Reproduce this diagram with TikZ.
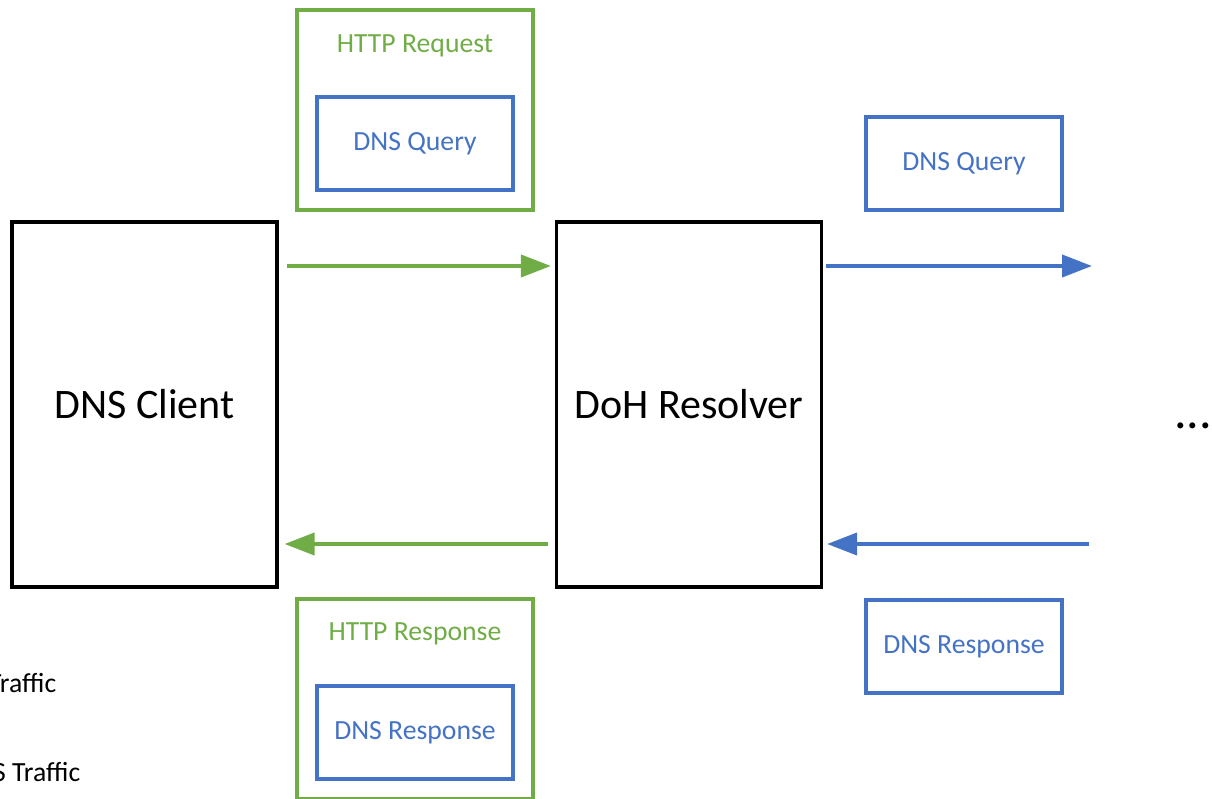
\documentclass[tikz,border=0pt]{standalone}
\usepackage{fontspec}
\setmainfont{Carlito}
\usetikzlibrary{arrows.meta,calc,positioning}
\definecolor{FigureGreen}{HTML}{70AD47}
\definecolor{FigureBlue}{HTML}{4472C4}

\begin{document}
\begin{tikzpicture}[x=1pt,y=-1pt,line cap=butt,line join=miter,
  hostbox/.style={draw=black,line width=3.2pt,minimum width=265pt,minimum height=365pt,inner sep=0pt,font=\fontsize{42}{50}\selectfont},
  httpbox/.style={draw=FigureGreen,line width=3.2pt,minimum width=236pt,minimum height=200pt,inner sep=0pt},
  dnsbox/.style={draw=FigureBlue,line width=3.2pt,minimum width=196pt,minimum height=93pt,inner sep=0pt,text=FigureBlue,font=\fontsize{27.7}{33}\selectfont},
  small/.style={font=\fontsize{27.7}{33}\selectfont,inner sep=0pt},
  garrow/.style={draw=FigureGreen,line width=4pt,-{Triangle[length=30pt,width=22pt]}},
  barrow/.style={draw=FigureBlue,line width=4pt,-{Triangle[length=30pt,width=22pt]}}]
  \clip (0,0) rectangle (1212,799);
  % hosts
  \node[hostbox] (client) at (144.5,404.5) {DNS Client};
  \node[hostbox] (resolver) at (689,404.5) {DoH Resolver};
  % wrapped messages
  \node[httpbox] (req) at (415,110) {};
  \node[small,text=FigureGreen] (reqlbl) at (415,46) {HTTP Request};
  \node[dnsbox] (q1) at (415,143.5) {\raisebox{-2pt}{DNS Query}};
  \node[httpbox] (resp) at (415,699) {};
  \node[small,text=FigureGreen] (resplbl) at (415,634) {HTTP Response};
  \node[dnsbox] (r1) at (415,732.5) {\raisebox{-2pt}{DNS Response}};
  % plain messages
  \node[dnsbox] (q2) at (964,163.5) {\raisebox{-2pt}{DNS Query}};
  \node[dnsbox] (r2) at (964,646.5) {\raisebox{-2pt}{DNS Response}};
  \node[font=\fontsize{50}{60}\selectfont,inner sep=0pt,anchor=base] (more) at (1193,428) {...};
  % legend
  \node[small,anchor=base west] (leg1) at (-12,692) {Traffic};
  \node[small,anchor=base west] (leg2) at (-7,781) {S Traffic};
  % traffic
  \coordinate (qout) at (1092,266);\coordinate (rin) at (1089,544);
  \draw[garrow] ([xshift=8pt,yshift=138.5pt]client.east) -- ([xshift=-4pt,yshift=138.5pt]resolver.west);
  \draw[garrow] ([xshift=-7pt,yshift=-139.5pt]resolver.west) -- ([xshift=6pt,yshift=-139.5pt]client.east);
  \draw[barrow] ([xshift=3pt,yshift=138.5pt]resolver.east) -- (qout);
  \draw[barrow] (rin) -- ([xshift=4pt,yshift=-139.5pt]resolver.east);
\end{tikzpicture}
\end{document}
